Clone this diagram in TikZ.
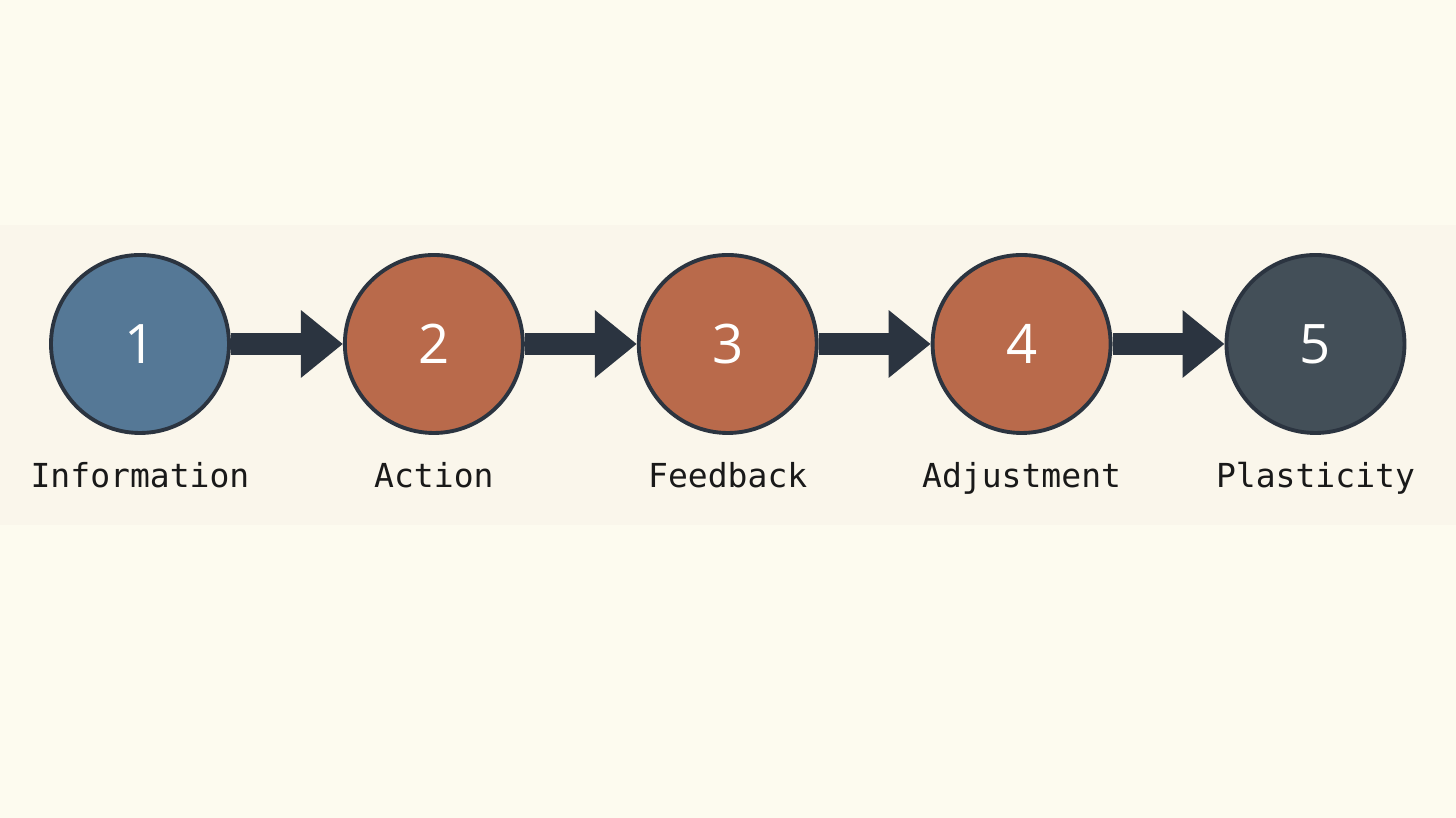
\documentclass[tikz,border=0pt]{standalone}
\usepackage{fontspec}
\setmonofont{DejaVu Sans Mono}
\newfontfamily\digitfont{Open Sans}
\usetikzlibrary{positioning,arrows.meta}

\definecolor{paperC}{HTML}{FDFBEF}
\definecolor{bandC}{HTML}{FAF6EB}
\definecolor{blueC}{HTML}{557896}
\definecolor{rustC}{HTML}{B96A4B}
\definecolor{slateC}{HTML}{434F58}
\definecolor{inkC}{HTML}{2B3440}

\tikzset{
  stepcirc/.style={circle, draw=inkC, line width=1.1pt, minimum size=1.78cm,
    inner sep=0pt, text=white!95!paperC, font=\digitfont\fontsize{15.5}{16}\selectfont},
  steplabel/.style={anchor=base, font=\ttfamily\fontsize{9.4}{10}\selectfont, text=black!90},
  steparrow/.style={draw=inkC, line width=0.22cm,
    -{Triangle[length=0.42cm,width=0.65cm]}}
}

\begin{document}
\begin{tikzpicture}
\fill[paperC] (0,0) rectangle (14.56,8.18);
\fill[bandC] (0,2.93) rectangle (14.56,5.93);
\useasboundingbox (0,0) rectangle (14.56,8.18);

\node[stepcirc, fill=blueC] (info) at (1.40,4.74) {1};
\node[stepcirc, fill=rustC, right=1.12cm of info] (action) {2};
\node[stepcirc, fill=rustC, right=1.12cm of action] (feedback) {3};
\node[stepcirc, fill=rustC, right=1.12cm of feedback] (adjust) {4};
\node[stepcirc, fill=slateC, right=1.12cm of adjust] (plastic) {5};

\node[steplabel] (infolbl) at ([yshift=-1.44cm]info.center) {Information};
\node[steplabel] (actionlbl) at ([yshift=-1.44cm]action.center) {Action};
\node[steplabel] (feedbacklbl) at ([yshift=-1.44cm]feedback.center) {Feedback};
\node[steplabel] (adjustlbl) at ([yshift=-1.44cm]adjust.center) {Adjustment};
\node[steplabel] (plasticlbl) at ([yshift=-1.44cm]plastic.center) {Plasticity};

\draw[steparrow] (info) -- (action);
\draw[steparrow] (action) -- (feedback);
\draw[steparrow] (feedback) -- (adjust);
\draw[steparrow] (adjust) -- (plastic);
\end{tikzpicture}
\end{document}
